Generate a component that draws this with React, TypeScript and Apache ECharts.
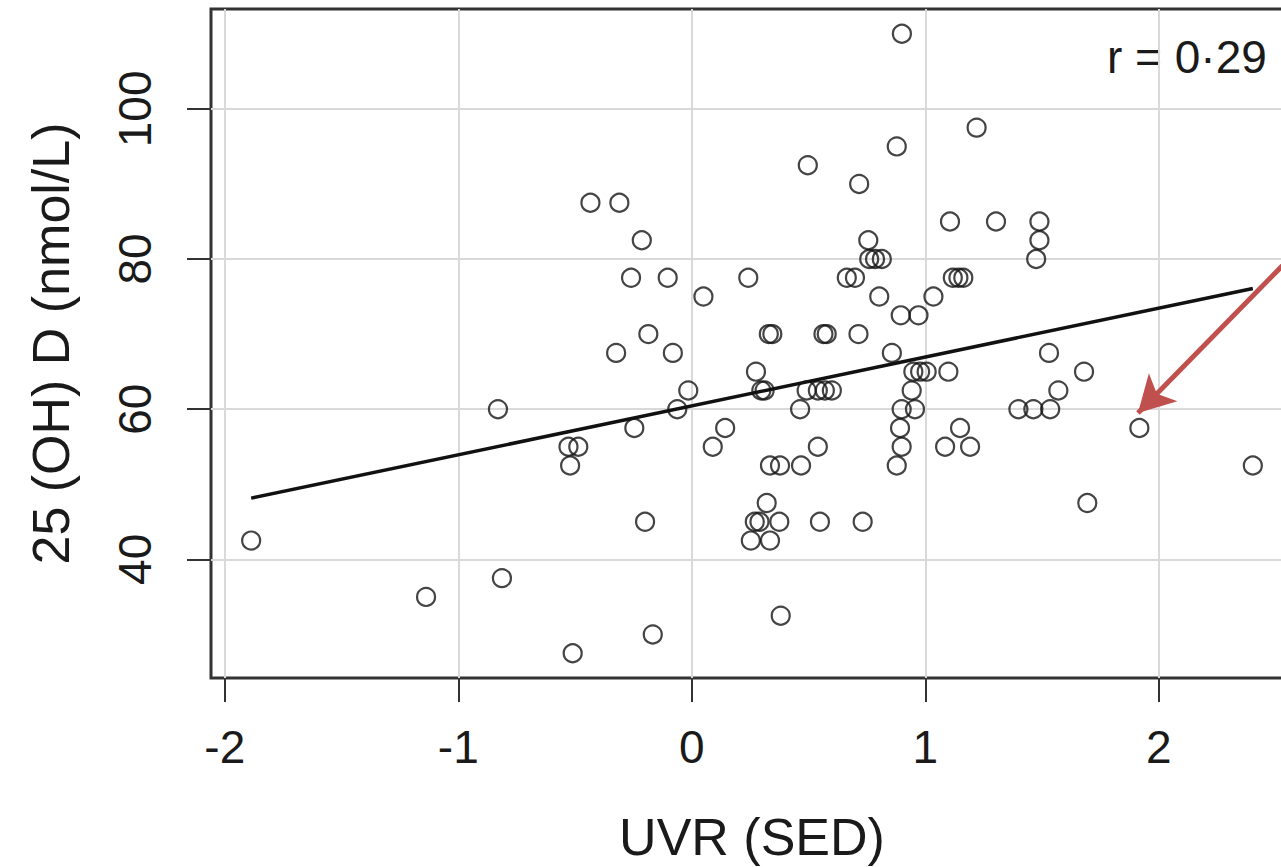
import React, { useEffect, useRef } from "react";
import * as echarts from "echarts";

// UVR (SED) values of each subject
const uvrX: number[] = [
  -1.887, -1.138, -0.813, -0.83, -0.51, -0.528, -0.486, -0.521, -0.434, -0.31,
  -0.324, -0.26, -0.103, -0.214, -0.186, -0.081, 0.05, -0.246, -0.062, -0.015,
  -0.2, -0.167, 0.09, 0.143, 0.242, 0.275, 0.298, 0.312, 0.33, 0.345,
  0.335, 0.378, 0.468, 0.321, 0.27, 0.29, 0.375, 0.253, 0.335, 0.381,
  0.464, 0.492, 0.54, 0.57, 0.6, 0.54, 0.549, 0.497, 0.564, 0.578,
  0.664, 0.699, 0.717, 0.714, 0.732, 0.756, 0.76, 0.785, 0.814, 0.803,
  0.857, 0.878, 0.9, 0.895, 0.971, 0.942, 0.949, 0.978, 1.006, 0.899,
  0.956, 0.892, 0.899, 0.878, 1.035, 1.106, 1.099, 1.085, 1.149, 1.192,
  1.118, 1.142, 1.163, 1.22, 1.303, 1.399, 1.463, 1.535, 1.489, 1.489,
  1.475, 1.53, 1.57, 1.68, 1.694, 1.917, 2.403,
];

// 25 (OH) D (nmol/L) values of each subject
const vitD: number[] = [
  42.5, 35, 37.5, 60, 27.5, 55, 55, 52.5, 87.5, 87.5,
  67.5, 77.5, 77.5, 82.5, 70, 67.5, 75, 57.5, 60, 62.5,
  45, 30, 55, 57.5, 77.5, 65, 62.5, 62.5, 70, 70,
  52.5, 52.5, 52.5, 47.5, 45, 45, 45, 42.5, 42.5, 32.5,
  60, 62.5, 62.5, 62.5, 62.5, 55, 45, 92.5, 70, 70,
  77.5, 77.5, 90, 70, 45, 82.5, 80, 80, 80, 75,
  67.5, 95, 110, 72.5, 72.5, 62.5, 65, 65, 65, 60,
  60, 57.5, 55, 52.5, 75, 85, 65, 55, 57.5, 55,
  77.5, 77.5, 77.5, 97.5, 85, 60, 60, 60, 85, 82.5,
  80, 67.5, 62.5, 65, 47.5, 57.5, 52.5,
];

// Fitted regression line
const fitIntercept = 60.44;
const fitSlope = 6.51;
const corrLabel = "r = 0·29";

// Axis tick labels
const xTicks: number[] = [-2, -1, 0, 1, 2];
const yTicks: number[] = [40, 60, 80, 100];

// Annotation arrow (data coordinates): start, tip
const arrowFrom: number[] = [2.57, 80.4];
const arrowTo: number[] = [1.911, 59.5];

const FONT = "'Liberation Sans', Arial, Helvetica, sans-serif";

export default function App() {
  const ref = useRef<HTMLDivElement>(null);

  useEffect(() => {
    if (!ref.current) return;
    const chart = echarts.init(ref.current, null, { renderer: "svg" });
    const points = uvrX.map((x, i) => [x, vitD[i]]);
    const xMin = Math.min(...uvrX);
    const xMax = Math.max(...uvrX);
    const fitLine = [
      [xMin, fitIntercept + fitSlope * xMin],
      [xMax, fitIntercept + fitSlope * xMax],
    ];

    chart.setOption({
      animation: false,
      backgroundColor: "#ffffff",
      grid: {
        left: 211,
        top: 9,
        right: -12,
        bottom: 189,
        show: true,
        borderColor: "#333333",
        borderWidth: 3,
        backgroundColor: "transparent",
        containLabel: false,
        outerBoundsMode: "none",
      },
      xAxis: {
        type: "value",
        min: -2.059,
        max: 2.575,
        name: "UVR (SED)",
        nameLocation: "middle",
        nameGap: 134,
        nameTextStyle: {
          fontSize: 52,
          lineHeight: 50,
          color: "#1a1a1a",
          fontFamily: FONT,
        },
        axisLine: { show: false, onZero: false },
        axisTick: {
          show: true,
          inside: false,
          length: 24,
          customValues: xTicks,
          lineStyle: { color: "#333333", width: 2 },
        },
        axisLabel: {
          customValues: xTicks,
          margin: 46,
          fontSize: 46,
          color: "#1a1a1a",
          fontFamily: FONT,
        },
        splitLine: { show: true, lineStyle: { color: "#d9d9d9", width: 2 } },
      },
      yAxis: {
        type: "value",
        min: 24.2,
        max: 113.3,
        name: "25 (OH) D (nmol/L)",
        nameLocation: "middle",
        nameGap: 134,
        nameTextStyle: { fontSize: 52, color: "#1a1a1a", fontFamily: FONT },
        axisLine: { show: false, onZero: false },
        axisTick: {
          show: true,
          inside: false,
          length: 24,
          customValues: yTicks,
          lineStyle: { color: "#333333", width: 2 },
        },
        axisLabel: {
          customValues: yTicks,
          rotate: 90,
          margin: 53,
          fontSize: 46,
          color: "#1a1a1a",
          fontFamily: FONT,
        },
        splitLine: { show: true, lineStyle: { color: "#d9d9d9", width: 2 } },
      },
      graphic: [
        {
          type: "text",
          x: 1107,
          y: 34,
          style: {
            text: corrLabel,
            fontSize: 46,
            fontFamily: FONT,
            fill: "#1a1a1a",
            verticalAlign: "top",
          },
        },
      ],
      series: [
        {
          type: "scatter",
          data: points,
          symbol: "circle",
          symbolSize: 18,
          itemStyle: {
            color: "transparent",
            borderColor: "#151515",
            borderWidth: 2.2,
          },
          markLine: {
            silent: true,
            symbol: ["none", "arrow"],
            symbolSize: [30, 36],
            label: { show: false },
            lineStyle: { color: "#c0504d", width: 5, type: "solid" },
            data: [[{ coord: arrowFrom }, { coord: arrowTo }]],
          },
          z: 3,
        },
        {
          type: "line",
          data: fitLine,
          showSymbol: false,
          symbol: "none",
          lineStyle: { color: "#111111", width: 3.5 },
          z: 4,
        },
      ],
    });

    return () => chart.dispose();
  }, []);

  return (
    <div
      ref={ref}
      style={{ position: "fixed", left: 0, top: 0, width: 1281, height: 867 }}
    />
  );
}
